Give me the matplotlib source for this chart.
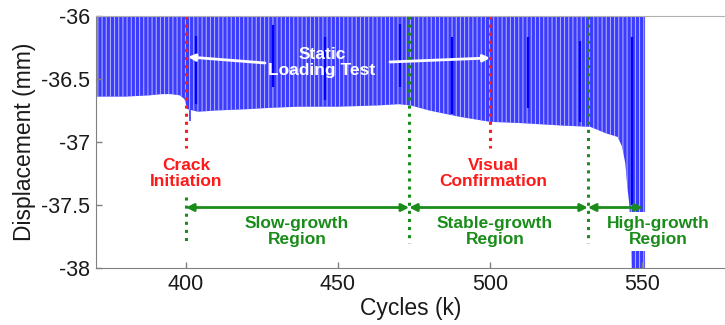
import matplotlib
matplotlib.use("Agg")
import matplotlib.pyplot as plt

plt.rcParams['font.family'] = ['Liberation Sans', 'DejaVu Sans']
plt.rcParams['hatch.linewidth'] = 0.7
plt.rcParams['hatch.color'] = '#b8b8ff'

# Lower envelope of the cyclic displacement record (minimum per cycle block)
cycles_k = [370.4, 380, 388, 392, 395, 398, 399.5, 400.5, 404, 410, 420, 427,
            437, 450, 463, 470, 474, 480, 490, 500, 510, 524, 533, 538, 542,
            543.5, 544.5, 545.2, 545.8, 546.5, 547.0, 551.0]
disp_min = [-36.64, -36.64, -36.63, -36.62, -36.62, -36.63, -36.66, -36.74,
            -36.76, -36.75, -36.74, -36.73, -36.72, -36.72, -36.71, -36.70,
            -36.71, -36.75, -36.80, -36.84, -36.85, -36.87, -36.88, -36.93,
            -36.96, -37.04, -37.17, -37.36, -37.49, -37.80, -38.50, -38.50]
disp_max = -35.5

# Static loading test records (longer holds)
static_k = [403.3, 428.6, 445.7, 470.4, 487.5, 512.5, 529.6, 546.7]
static_top = [-36.16, -36.07, -36.17, -36.06, -36.17, -36.17, -36.20, -36.17]
static_bot = [-36.70, -36.56, -36.67, -36.56, -36.78, -36.73, -36.84, -37.50]

crack_k = 400.0
visual_k = 500.0
region_bounds = [400.0, 473.4, 532.2, 550.3]
region_names = ["Slow-growth\nRegion", "Stable-growth\nRegion", "High-growth\nRegion"]

xticks = [400, 450, 500, 550]
yticks = [-38, -37.5, -37, -36.5, -36]

blue = '#3c3cff'
red = '#ff1a1a'
green = '#1a8c1a'

fig = plt.figure(figsize=(7.25, 3.25), dpi=100)
ax = fig.add_axes([0.1324, 0.1754, 0.8676, 0.7754])

ax.fill_between(cycles_k, disp_min, disp_max, facecolor=blue, edgecolor='#b8b8ff',
                hatch='||||', lw=0, zorder=1)
ax.vlines(401.3, -36.75, -36.83, color=blue, lw=1.2, zorder=1)
ax.vlines(static_k, static_bot, static_top, color='#0000ff', lw=1.6, zorder=2)

# Crack initiation / visual confirmation markers
for xk in (crack_k, visual_k):
    ax.plot([xk, xk], [-36.0, -37.05], color=red, ls=':', lw=2.2, zorder=3)
ax.text(crack_k, -37.25, "Crack\nInitiation", color=red, ha='center', va='center',
        fontsize=12.5, fontweight='bold', linespacing=1.1, zorder=4)
ax.text(visual_k + 1, -37.25, "Visual\nConfirmation", color=red, ha='center', va='center',
        fontsize=12.5, fontweight='bold', linespacing=1.1, zorder=4)

# Growth region boundaries and arrows
ax.plot([region_bounds[0]] * 2, [-37.44, -37.80], color=green, ls=':', lw=2.2, zorder=3)
for xb in region_bounds[1:3]:
    ax.plot([xb, xb], [-36.0, -37.80], color=green, ls=':', lw=2.2, zorder=3)
for i, name in enumerate(region_names):
    x0, x1 = region_bounds[i], region_bounds[i + 1]
    ax.annotate("", xy=(x1, -37.52), xytext=(x0, -37.52),
                arrowprops=dict(arrowstyle='<|-|>', color=green, lw=2,
                                mutation_scale=11, shrinkA=0, shrinkB=0), zorder=5)
bbox = dict(boxstyle='square,pad=0.25', fc='white', ec='none')
ax.text(436.5, -37.71, region_names[0], color=green, ha='center', va='center',
        fontsize=12.5, fontweight='bold', linespacing=1.1, zorder=4)
ax.text(501.6, -37.71, region_names[1], color=green, ha='center', va='center',
        fontsize=12.5, fontweight='bold', linespacing=1.1, zorder=4)
ax.text(555.3, -37.71, region_names[2], color=green, ha='center', va='center',
        fontsize=12.5, fontweight='bold', linespacing=1.1, zorder=4, bbox=bbox)

# Static loading test label
ax.text(444.7, -36.37, "Static\nLoading Test", color='white', ha='center', va='center',
        fontsize=12.5, fontweight='bold', linespacing=1.1, zorder=4)
ax.annotate("", xy=(400.7, -36.325), xytext=(426.0, -36.373),
            arrowprops=dict(arrowstyle='-|>', color='white', lw=2,
                            mutation_scale=10, shrinkA=0, shrinkB=0), zorder=5)
ax.annotate("", xy=(500.0, -36.333), xytext=(467.1, -36.365),
            arrowprops=dict(arrowstyle='-|>', color='white', lw=2,
                            mutation_scale=10, shrinkA=0, shrinkB=0), zorder=5)

ax.set_xlim(370.4, 577.3)
ax.set_ylim(-38, -36)
ax.set_xticks(xticks)
ax.set_yticks(yticks)
ax.set_yticklabels(['-38', '-37.5', '-37', '-36.5', '-36'])
ax.tick_params(direction='in', length=4, width=1, color='#808080',
               labelsize=15.5, labelcolor='#1a1a1a', pad=4)
ax.set_xlabel("Cycles (k)", fontsize=16.5, color='#1a1a1a', labelpad=2)
ax.set_ylabel("Displacement (mm)", fontsize=16.5, color='#1a1a1a', labelpad=4)

for side in ('left', 'bottom'):
    ax.spines[side].set_color('#808080')
ax.spines['top'].set_color('#b0b0b0')
ax.spines['right'].set_visible(False)
for sp in ax.spines.values():
    sp.set_zorder(6)

fig.savefig("out.png", dpi=100)
